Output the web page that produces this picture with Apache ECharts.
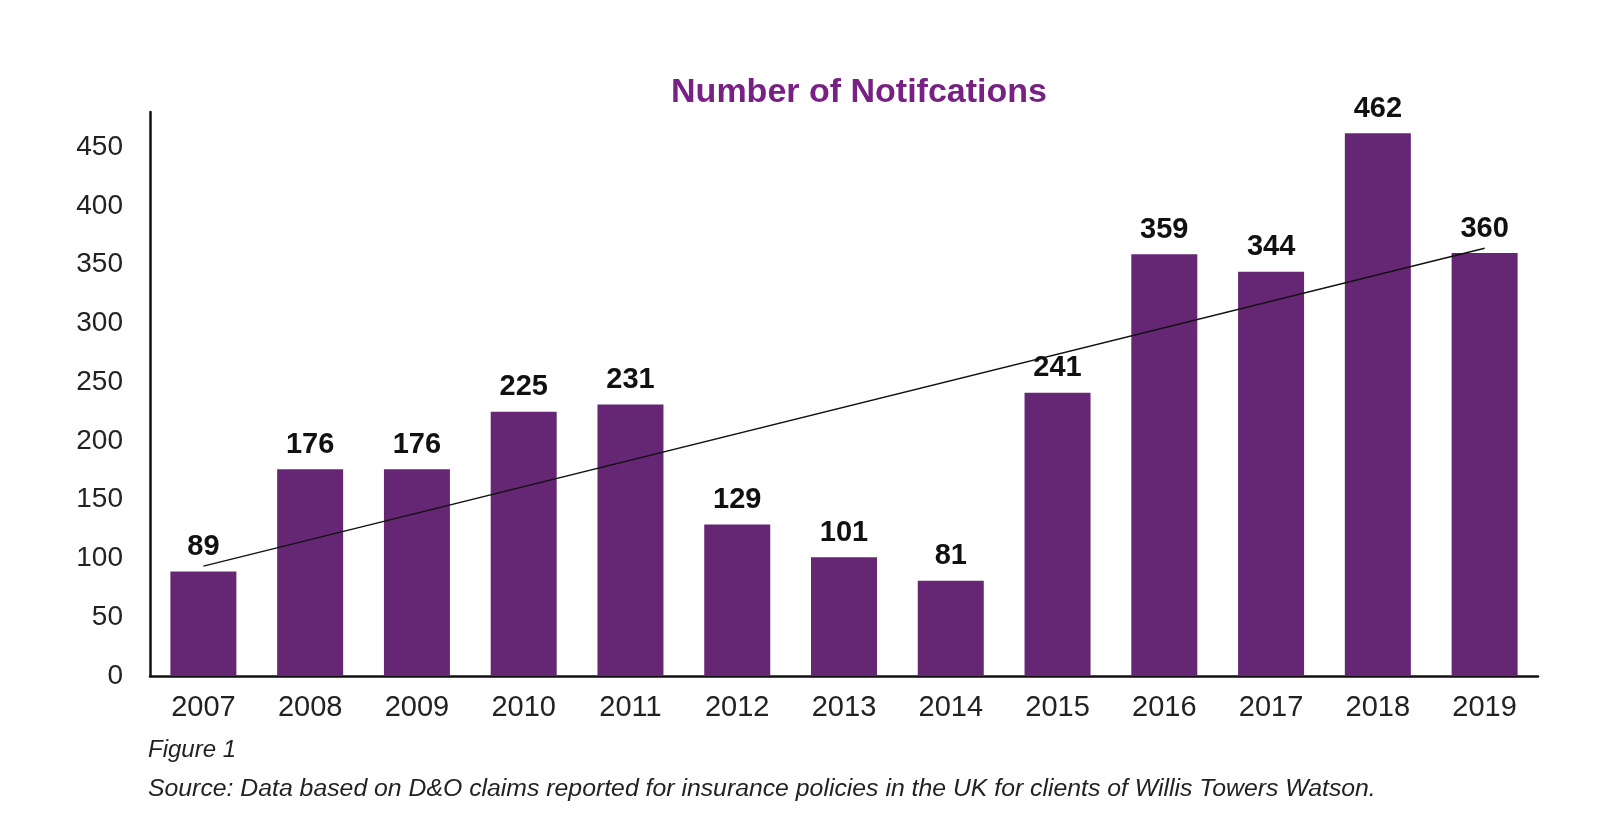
<!DOCTYPE html>
<html>
<head>
<meta charset="utf-8">
<script src="https://cdn.jsdelivr.net/npm/echarts@6/dist/echarts.min.js"></script>
<style>
html,body{margin:0;padding:0;background:#fff;}
#chart{width:1624px;height:832px;}
</style>
</head>
<body>
<div id="chart"></div>
<script>
var years = ['2007','2008','2009','2010','2011','2012','2013','2014','2015','2016','2017','2018','2019'];
var notifications = [89,176,176,225,231,129,101,81,241,359,344,462,360];
// trend line endpoints (2007 and 2019)
var trend = [93.5,null,null,null,null,null,null,null,null,null,null,null,364];
var yTicks = [0,50,100,150,200,250,300,350,400,450];

var chart = echarts.init(document.getElementById('chart'));
chart.setOption({
  animation: false,
  backgroundColor: '#fff',
  textStyle: { fontFamily: 'Liberation Sans, Arial, sans-serif' },
  title: [{
    text: 'Number of Notifcations',
    left: 854, top: 71, textAlign: 'center',
    textStyle: { color: '#772182', fontSize: 34, fontWeight: 'bold', fontFamily: 'Liberation Sans, Arial, sans-serif' }
  }, {
    text: 'Figure 1',
    left: 143, top: 733,
    textStyle: { color: '#222', fontSize: 24, fontStyle: 'italic', fontWeight: 'normal', fontFamily: 'Liberation Sans, Arial, sans-serif' }
  }, {
    text: 'Source: Data based on D&O claims reported for insurance policies in the UK for clients of Willis Towers Watson.',
    left: 143, top: 772,
    textStyle: { color: '#222', fontSize: 24.8, fontStyle: 'italic', fontWeight: 'normal', fontFamily: 'Liberation Sans, Arial, sans-serif' }
  }],
  grid: { left: 150, right: 86, top: 112, bottom: 156, containLabel: false },
  xAxis: {
    type: 'category',
    data: years,
    axisLine: { lineStyle: { color: '#111', width: 2.5 } },
    axisTick: { show: false },
    axisLabel: { color: '#222', fontSize: 29, margin: 17 }
  },
  yAxis: {
    type: 'value',
    min: 0, max: 480, interval: 50,
    axisLine: { show: true, lineStyle: { color: '#111', width: 2.5 } },
    axisTick: { show: false },
    splitLine: { show: false },
    axisLabel: {
      color: '#222', fontSize: 28, margin: 27, showMaxLabel: false,
      formatter: function (v) { return yTicks.indexOf(v) >= 0 ? String(v) : ''; }
    }
  },
  series: [{
    type: 'bar',
    data: notifications,
    barWidth: 66,
    itemStyle: { color: '#652774' },
    label: {
      show: true, position: 'top', distance: 10,
      color: '#111', fontSize: 29, fontWeight: 'bold'
    },
    z: 2
  }, {
    type: 'line',
    data: trend,
    connectNulls: true,
    symbol: 'none',
    lineStyle: { color: '#111', width: 1.5 },
    z: 3
  }]
});
</script>
</body>
</html>
